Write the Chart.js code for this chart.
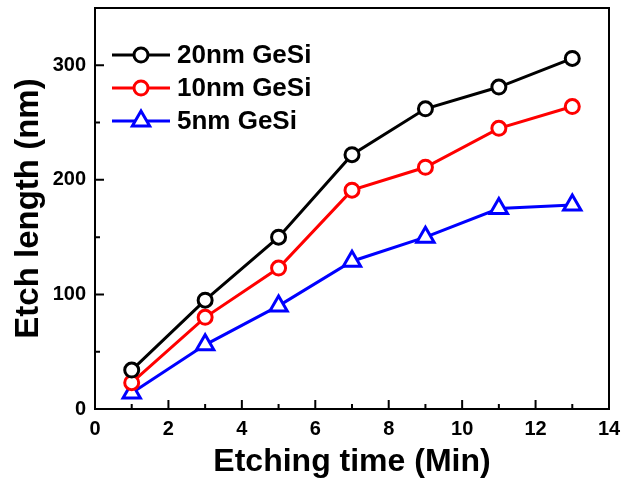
<!DOCTYPE html>
<html>
<head>
<meta charset="utf-8">
<script src="https://cdn.jsdelivr.net/npm/chart.js@4.4.1/dist/chart.umd.min.js"></script>
<style>
  html, body { margin: 0; padding: 0; background: #fff; }
  #etchChart { display: block; }
</style>
</head>
<body>
<canvas id="etchChart" width="621" height="485"></canvas>
<script>
// Etch length vs. etching time for three GeSi thicknesses
const etchTimes = [1, 3, 5, 7, 9, 11, 13];
const etch20nm = [34, 95, 150, 222, 262, 281, 306];
const etch10nm = [23, 80, 123, 191, 211, 245, 264];
const etch5nm = [14, 56, 90, 129, 150, 175, 178];

const seriesNames = ['20nm GeSi', '10nm GeSi', '5nm GeSi'];
const xTicks = [0, 2, 4, 6, 8, 10, 12, 14];
const yTicks = [0, 100, 200, 300];

const FONT = '"Liberation Sans", Arial, Helvetica, sans-serif';

function toPoints(values) {
  return etchTimes.map((t, i) => ({ x: t, y: values[i] }));
}

function makeSeries(label, values, color, shape, radius) {
  return {
    label: label,
    data: toPoints(values),
    borderColor: color,
    borderWidth: 3,
    pointStyle: shape,
    pointRadius: radius,
    pointHoverRadius: radius,
    pointBorderWidth: 3,
    pointBackgroundColor: '#fff',
    pointBorderColor: color,
    tension: 0,
    fill: false,
  };
}

// keep the plot box where the layout padding puts it
function noEdgePadding(scale) {
  scale.paddingTop = 0;
  scale.paddingBottom = 0;
  scale.paddingLeft = 0;
  scale.paddingRight = 0;
}

// box around the plot plus inward major/minor ticks
const frameTicks = {
  id: 'frameTicks',
  afterDatasetsDraw(chart) {
    const { ctx, chartArea: a, scales: { x, y } } = chart;
    ctx.save();
    ctx.strokeStyle = '#000';
    ctx.lineWidth = 2;
    ctx.strokeRect(a.left, a.top, a.right - a.left, a.bottom - a.top);

    ctx.beginPath();
    for (let v = 0; v <= 14; v += 1) {
      const px = x.getPixelForValue(v);
      const len = v % 2 === 0 ? 9 : 5;
      ctx.moveTo(px, a.bottom);
      ctx.lineTo(px, a.bottom - len);
    }
    for (let v = 0; v <= 350; v += 50) {
      const py = y.getPixelForValue(v);
      const len = v % 100 === 0 ? 9 : 5;
      ctx.moveTo(a.left, py);
      ctx.lineTo(a.left + len, py);
    }
    ctx.stroke();
    ctx.restore();
  }
};

// legend with line through the marker
const lineLegend = {
  id: 'lineLegend',
  afterDraw(chart) {
    const { ctx } = chart;
    const startX = 112, endX = 170, textX = 177;
    let rowY = 55;
    ctx.save();
    chart.data.datasets.forEach((ds) => {
      ctx.strokeStyle = ds.borderColor;
      ctx.lineWidth = 3;
      ctx.beginPath();
      ctx.moveTo(startX, rowY);
      ctx.lineTo(endX, rowY);
      ctx.stroke();

      ctx.fillStyle = '#fff';
      ctx.lineWidth = ds.pointBorderWidth;
      Chart.helpers.drawPoint(ctx, {
        pointStyle: ds.pointStyle,
        radius: ds.pointRadius,
        borderWidth: ds.pointBorderWidth,
        rotation: 0,
      }, (startX + endX) / 2, rowY);

      ctx.fillStyle = '#000';
      ctx.font = 'bold 26px ' + FONT;
      ctx.textAlign = 'left';
      ctx.textBaseline = 'middle';
      ctx.fillText(ds.label, textX, rowY + 1);
      rowY += 33;
    });
    ctx.restore();
  }
};

new Chart(document.getElementById('etchChart'), {
  type: 'line',
  data: {
    datasets: [
      makeSeries(seriesNames[0], etch20nm, '#000000', 'circle', 7),
      makeSeries(seriesNames[1], etch10nm, '#ff0000', 'circle', 7),
      makeSeries(seriesNames[2], etch5nm, '#0000ff', 'triangle', 10),
    ],
  },
  options: {
    responsive: false,
    animation: false,
    layout: { autoPadding: false, padding: { left: 0, top: 8, right: 12, bottom: 0 } },
    plugins: {
      legend: { display: false },
      tooltip: { enabled: false },
    },
    scales: {
      x: {
        type: 'linear',
        min: 0,
        max: 14,
        afterBuildTicks: (scale) => { scale.ticks = xTicks.map((v) => ({ value: v })); },
        afterFit: (scale) => { scale.height = 76; noEdgePadding(scale); },
        grid: { display: false, drawTicks: false },
        border: { display: false },
        ticks: {
          color: '#000',
          padding: 8,
          maxRotation: 0,
          font: { family: FONT, size: 20, weight: 'bold' },
        },
        title: {
          display: true,
          text: 'Etching time (Min)',
          color: '#000',
          padding: { top: 0, bottom: 4 },
          font: { family: FONT, size: 32, weight: 'bold' },
        },
      },
      y: {
        type: 'linear',
        min: 0,
        max: 350,
        afterBuildTicks: (scale) => { scale.ticks = yTicks.map((v) => ({ value: v })); },
        afterFit: (scale) => { scale.width = 95; noEdgePadding(scale); },
        grid: { display: false, drawTicks: false },
        border: { display: false },
        ticks: {
          color: '#000',
          padding: 9,
          font: { family: FONT, size: 20, weight: 'bold' },
        },
        title: {
          display: true,
          text: 'Etch length (nm)',
          color: '#000',
          padding: { top: 9, bottom: 0 },
          font: { family: FONT, size: 33, weight: 'bold' },
        },
      },
    },
  },
  plugins: [frameTicks, lineLegend],
});
</script>
</body>
</html>
